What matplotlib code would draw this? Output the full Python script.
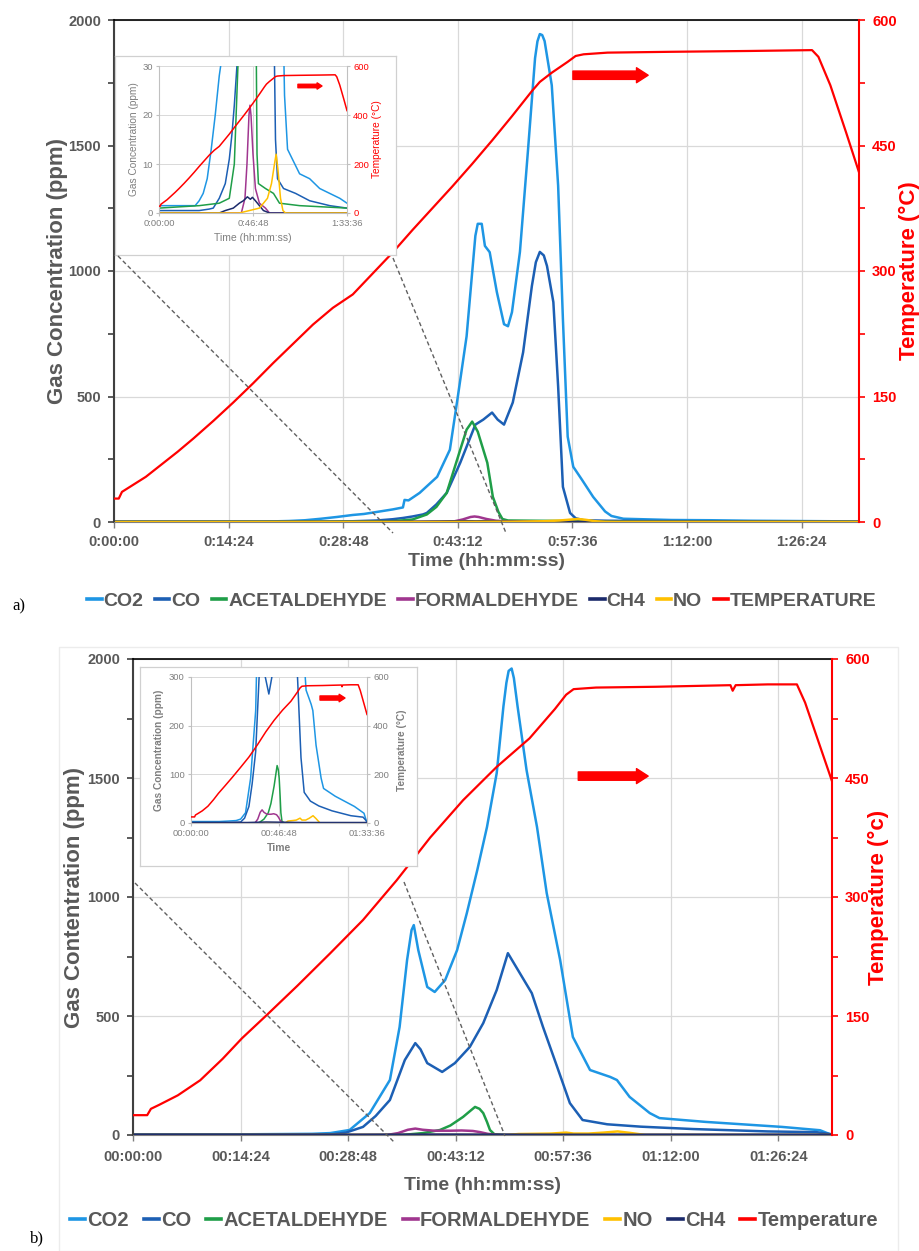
import matplotlib
matplotlib.use('Agg')
import matplotlib.pyplot as plt
from matplotlib.lines import Line2D
from matplotlib.patches import Rectangle

plt.rcParams['font.family'] = ['Liberation Sans', 'DejaVu Sans']

GRAY = '#595959'
LGRAY = '#7f7f7f'
GRID = '#d9d9d9'
RED = '#ff0000'
C_CO2 = '#1e96e4'
C_CO = '#1c5fb4'
C_ACET = '#1f9e48'
C_FORM = '#a0368f'
C_CH4 = '#1b2a6b'
C_NO = '#ffc000'

# ---------------- panel a) data, time in minutes ----------------
a_t_temp = [0, 0.6, 1.0, 2.0, 4.0, 6.0, 8.0, 10.0, 12.5, 15.0, 17.5, 20.0, 22.5, 25.0, 27.5,
            30.0, 32.5, 35.0, 37.5, 40.0, 42.5, 45.0, 47.5, 50.0, 52.5, 53.5, 55.0, 57.0,
            58.0, 59.0, 62.0, 70.0, 80.0, 87.7, 88.5, 90.0, 92.0, 93.6]
a_temp = [28, 28, 36, 42, 54, 69, 84, 100, 121, 143, 166, 190, 213, 236, 256,
          272, 297, 322, 349, 375, 401, 428, 456, 485, 515, 526, 537, 550,
          557, 559, 561, 562, 563, 564, 556, 522, 465, 418]

a_t_co2 = [0, 18, 20, 22, 24, 26, 28, 30, 31.4, 33, 35, 36.3, 36.5, 37.0, 38.4, 40.6, 42.2,
           43.2, 44.3, 45.4, 45.7, 46.2, 46.6, 47.2, 48.1, 49.0, 49.5, 50.0, 51.0, 52.0,
           52.9, 53.2, 53.5, 53.8, 54.1, 55.0, 55.8, 56.4, 57.0, 57.7, 58.8, 60.2, 61.7,
           62.5, 64, 70, 75, 80, 85, 90, 93.6]
a_co2 = [1.5, 1.5, 2.5, 4, 7, 13, 20, 28, 32, 40, 50, 58, 88, 86, 116, 180, 288,
         500, 740, 1140, 1188, 1188, 1100, 1075, 916, 788, 780, 836, 1076, 1476,
         1848, 1915, 1944, 1940, 1916, 1740, 1340, 808, 340, 220, 168, 100, 42,
         24, 13, 8, 7, 5, 4, 3, 2]

a_t_co = [0, 20, 25, 27, 30, 33, 35, 36.3, 37.5, 38.8, 39.3, 40.5, 41.8, 43.5, 45.4, 46.4,
          47.5, 48.2, 49.0, 50.1, 51.4, 52.5, 53.0, 53.5, 54.0, 54.4, 55.2, 55.8, 56.4,
          57.3, 58.0, 59.0, 62, 68, 75, 85, 93.6]
a_co = [0.5, 0.5, 0.8, 1, 3, 6, 11, 16, 22, 30, 36, 70, 116, 236, 388, 408,
        436, 408, 388, 476, 676, 940, 1035, 1076, 1062, 1020, 876, 540, 140,
        36, 15, 7, 5, 4, 2.5, 1.5, 1]

a_t_acet = [0, 20, 30, 35, 37.5, 39.3, 40.5, 41.8, 43.5, 44.3, 45.0, 45.7, 46.9, 47.6,
            48.3, 48.8, 49.5, 53, 57, 60, 70, 93.6]
a_acet = [1, 1.5, 2, 3, 10, 30, 60, 116, 288, 368, 400, 360, 236, 100,
          40, 12, 6, 5, 4, 2, 1.5, 1]

a_t_form = [0, 41, 42.8, 43.8, 44.8, 45.3, 45.8, 46.8, 48, 50, 53, 55, 93.6]
a_form = [0, 0, 3, 10, 20, 22, 20, 12, 5, 2, 1, 0, 0]

a_t_ch4 = [0, 30, 33, 37, 40, 42, 44, 45.5, 46.5, 48, 50, 52, 55, 93.6]
a_ch4 = [0, 0, 0.5, 1, 2, 2.5, 3.3, 2.8, 3.2, 2.5, 1.5, 0.5, 0, 0]

a_t_no = [0, 40, 45, 50, 52, 54, 56, 57.5, 58.3, 59.2, 60.5, 61.7, 63, 93.6]
a_no = [0, 0, 0.5, 1, 2, 3, 6, 10, 12, 9, 3, 0.5, 0, 0]

# ---------------- panel b) data ----------------
b_t_temp = [0, 1.9, 2.4, 3.5, 6, 9, 12, 14.6, 18, 22, 26.4, 30.8, 35.3, 39.8, 44.2,
            48.7, 53.1, 56.5, 58.0, 59.0, 62, 70, 80.0, 80.3, 80.7, 85, 88.9, 90, 92, 93.6]
b_temp = [25, 25, 33, 38, 50, 69, 96, 122, 152, 188, 229, 271, 321, 375, 422,
          464, 500, 537, 555, 562, 564, 565, 567, 560, 567, 568, 568, 545, 490, 446]

b_t_co2 = [0, 15, 20, 24, 26.4, 29.0, 31.7, 34.4, 35.7, 36.7, 37.3, 37.6, 38.2, 39.4, 40.4,
           41.8, 43.4, 44.7, 46.1, 47.4, 48.7, 49.6, 50.0, 50.3, 50.7, 51.0, 51.5, 52.7,
           54.1, 55.4, 57.2, 58.9, 61.2, 63.9, 64.8, 66.5, 69.2, 70.5, 76.7, 86.9, 92, 93.6]
b_co2 = [3, 3, 4, 5, 8, 21, 92, 231, 454, 735, 861, 882, 777, 622, 601,
         651, 777, 932, 1113, 1294, 1520, 1800, 1900, 1950, 1960, 1920, 1800, 1533,
         1294, 1016, 735, 412, 273, 244, 231, 160, 92, 71, 55, 34, 20, 0]

b_t_co = [0, 20, 26.4, 28.5, 30.8, 32.5, 34.4, 36.4, 37.8, 38.5, 39.4, 41.4, 43.1, 45.1,
          46.9, 48.7, 50.2, 51.8, 53.4, 54.9, 56.8, 58.5, 60.2, 63.5, 68, 75, 85, 91.5, 93.6]
b_co = [1, 1, 2, 10, 34, 80, 147, 315, 386, 360, 302, 265, 302, 370,
        470, 609, 764, 680, 596, 454, 286, 134, 63, 45, 35, 25, 15, 12, 3]

b_t_acet = [0, 36, 38.8, 41.1, 42.5, 44.2, 45.3, 45.8, 46.4, 46.9, 47.4, 47.8, 48.4, 50, 93.6]
b_acet = [0, 0, 8, 21, 40, 76, 105, 118, 110, 92, 55, 21, 3, 0, 0]

b_t_form = [0, 34, 35.5, 36.8, 37.8, 38.8, 40.4, 42.5, 44, 45.5, 46.5, 47.5, 48.9, 93.6]
b_form = [0, 0, 8, 22, 27, 22, 18, 18, 19, 17, 12, 5, 0, 0]

b_t_no = [0, 50, 51.6, 54, 56, 57, 58, 59, 61, 63, 64.9, 66.5, 68.6, 93.6]
b_no = [0, 0, 4, 5, 6, 8, 10, 6, 6, 10, 15, 9, 0, 0]

b_t_ch4 = [0, 30, 40, 50, 60, 93.6]
b_ch4 = [1, 1, 2, 1.5, 1, 1]

a_names = ['CO2', 'CO', 'ACETALDEHYDE', 'FORMALDEHYDE', 'CH4', 'NO', 'TEMPERATURE']
b_names = ['CO2', 'CO', 'ACETALDEHYDE', 'FORMALDEHYDE', 'NO', 'CH4', 'Temperature']

x_ticks = [0, 14.4, 28.8, 43.2, 57.6, 72.0, 86.4]
inset_x_ticks = [0, 46.8, 93.6]
gas_ticks = [0, 500, 1000, 1500, 2000]
temp_ticks = [0, 150, 300, 450, 600]

W, H = 919, 1251
fig = plt.figure(figsize=(W / 100, H / 100), dpi=100)


def box(l, t, r, b):
    # pixel box (top-left origin) -> figure fraction rect
    return [l / W, 1 - b / H, (r - l) / W, (b - t) / H]


def hms(m, two_digit):
    s = int(round(m * 60))
    h, mm, ss = s // 3600, s % 3600 // 60, s % 60
    return f'{h:02d}:{mm:02d}:{ss:02d}' if two_digit else f'{h}:{mm:02d}:{ss:02d}'


def main_panel(rect, series, temp_t, temp, two_digit, ylab, tlab, xpad, ylab_x, tlab_x, xlab_y):
    ax = fig.add_axes(rect)
    for t, v, c in series:
        ax.plot(t, v, color=c, lw=1.8, solid_joinstyle='round')
    ax.set_xlim(0, 93.6)
    ax.set_ylim(0, 2000)
    ax.set_xticks(x_ticks, [hms(x, two_digit) for x in x_ticks],
                  fontweight='bold', fontsize=10.5, color=GRAY)
    ax.set_yticks(gas_ticks, [str(v) for v in gas_ticks],
                  fontweight='bold', fontsize=10.5, color=GRAY)
    ax.set_yticks([250, 750, 1250, 1750], minor=True)
    ax.grid(True, which='major', color=GRID, lw=0.9)
    ax.set_axisbelow(True)
    ax.tick_params(axis='y', which='both', direction='out', length=4, width=1.2,
                   color='#404040', pad=5.4)
    ax.tick_params(axis='x', direction='out', length=4, width=1.0, color=LGRAY, pad=xpad)
    ax.spines['left'].set_color('#404040')
    ax.spines['left'].set_linewidth(1.5)
    ax.spines['top'].set_color('black')
    ax.spines['top'].set_linewidth(1.2)
    ax.spines['bottom'].set_color(LGRAY)
    ax.spines['right'].set_visible(False)
    ax.set_xlabel('Time (hh:mm:ss)', fontsize=14, fontweight='bold', color=GRAY)
    ax.xaxis.set_label_coords(0.5, xlab_y)
    ax.set_ylabel(ylab, fontsize=16, fontweight='bold', color=GRAY)
    ax.yaxis.set_label_coords(ylab_x, 0.5)

    ax2 = ax.twinx()
    ax2.plot(temp_t, temp, color=RED, lw=1.6)
    ax2.set_ylim(0, 600)
    ax2.set_yticks(temp_ticks, [str(v) for v in temp_ticks],
                   fontweight='bold', fontsize=10.5, color=RED)
    ax2.set_yticks([75, 225, 375, 525], minor=True)
    ax2.tick_params(axis='y', which='both', direction='out', length=4, width=1.2,
                    color=RED, pad=5.4)
    for s in ['left', 'top', 'bottom']:
        ax2.spines[s].set_visible(False)
    ax2.spines['right'].set_color(RED)
    ax2.spines['right'].set_linewidth(1.5)
    ax2.set_ylabel(tlab, fontsize=16, fontweight='bold', color=RED)
    ax2.yaxis.set_label_coords(tlab_x, 0.5)
    return ax, ax2


def inset(frame, rect, series, temp_t, temp, ymax, ystep, two_digit, bold, tcol,
          xlab, coords):
    fr = fig.add_axes(frame)
    fr.set_xticks([])
    fr.set_yticks([])
    for s in fr.spines.values():
        s.set_color('#d0d0d0')
        s.set_linewidth(0.9)

    ax = fig.add_axes(rect)
    for t, v, c in series:
        ax.plot(t, v, color=c, lw=1.1)
    ax.set_xlim(0, 93.6)
    ax.set_ylim(0, ymax)
    fw = 'bold' if bold else 'normal'
    yt = list(range(0, ymax + 1, ystep))
    ax.set_xticks(inset_x_ticks, [hms(x, two_digit) for x in inset_x_ticks],
                  fontsize=6.8, color=LGRAY)
    ax.set_yticks(yt, [str(v) for v in yt], fontsize=6.8, color=LGRAY)
    ax.grid(True, color=GRID, lw=0.7)
    ax.set_axisbelow(True)
    ax.tick_params(length=2, color='#c0c0c0', pad=2.5)
    for s in ax.spines.values():
        s.set_color('#c0c0c0')
        s.set_linewidth(0.8)
    ax.spines['top'].set_visible(False)
    ax.set_xlabel(xlab, fontsize=7.5, color=LGRAY, fontweight=fw)
    ax.xaxis.set_label_coords(0.5, coords[2])
    ax.set_ylabel('Gas Concentration (ppm)', fontsize=7.3, color=LGRAY, fontweight=fw)
    ax.yaxis.set_label_coords(coords[0], 0.5)

    ax2 = ax.twinx()
    ax2.plot(temp_t, temp, color=RED, lw=1.1)
    ax2.set_ylim(0, 600)
    ax2.set_yticks([0, 200, 400, 600], ['0', '200', '400', '600'], fontsize=6.8, color=tcol)
    ax2.tick_params(length=2, color='#c0c0c0', pad=2.5)
    for s in ax2.spines.values():
        s.set_visible(False)
    ax2.set_ylabel('Temperature (°C)', fontsize=7.3, color=tcol, fontweight=fw)
    ax2.yaxis.set_label_coords(coords[1], 0.5)
    return ax, ax2


def red_arrow(ax, x0, x1, y, scale):
    ax.annotate('', xy=(x1, y), xytext=(x0, y), xycoords='axes fraction',
                arrowprops=dict(arrowstyle='simple,tail_width=0.5,head_width=0.9,head_length=0.7',
                                color=RED, mutation_scale=scale, shrinkA=0, shrinkB=0))


def dashed(p0, p1):
    fig.add_artist(Line2D([p0[0] / W, p1[0] / W], [1 - p0[1] / H, 1 - p1[1] / H],
                          transform=fig.transFigure, color='#606060', lw=1.0,
                          ls=(0, (3, 2))))


# light frame around panel b
fig.add_artist(Rectangle((59 / W, 0), (898 - 59) / W, 1 - 647 / H, transform=fig.transFigure,
                         fill=False, edgecolor='#ececec', lw=1.0, zorder=-5))

# ---------------- panel a ----------------
a_series = [(a_t_co2, a_co2, C_CO2), (a_t_co, a_co, C_CO), (a_t_acet, a_acet, C_ACET),
            (a_t_form, a_form, C_FORM), (a_t_ch4, a_ch4, C_CH4), (a_t_no, a_no, C_NO)]
a_ax, a_ax2 = main_panel(box(114, 20, 859, 522), a_series, a_t_temp, a_temp, False,
                         'Gas Concentration (ppm)', 'Temperature (°C)',
                         5.4, -0.062, 1.054, -0.062)
red_arrow(a_ax2, 0.616, 0.717, 0.890, 12)

ia, ia2 = inset(box(115, 56, 396, 255), box(159, 66, 347, 213), a_series, a_t_temp, a_temp,
                30, 10, False, False, RED, 'Time (hh:mm:ss)', (-0.106, 1.133, -0.136))
red_arrow(ia2, 0.739, 0.867, 0.864, 5)

dashed((118, 256), (393, 533))
dashed((393, 258), (506, 533))

a_cols = [C_CO2, C_CO, C_ACET, C_FORM, C_CH4, C_NO, RED]
fig.legend([Line2D([], [], color=c, lw=2.6) for c in a_cols], a_names,
           loc='center', bbox_to_anchor=(482 / W, 1 - 601 / H), ncol=7, frameon=False,
           prop=dict(weight='bold', size=14), labelcolor=GRAY, handlelength=0.75,
           handletextpad=0.1, columnspacing=0.58, borderpad=0)
fig.text(12 / W, 1 - 606 / H, 'a)', family='Liberation Serif', fontsize=12, va='center')

# ---------------- panel b ----------------
b_series = [(b_t_co2, b_co2, C_CO2), (b_t_co, b_co, C_CO), (b_t_acet, b_acet, C_ACET),
            (b_t_form, b_form, C_FORM), (b_t_no, b_no, C_NO), (b_t_ch4, b_ch4, C_CH4)]
b_ax, b_ax2 = main_panel(box(133, 659, 832, 1135), b_series, b_t_temp, b_temp, True,
                         'Gas Contentration (ppm)', 'Temperature (°c)',
                         6.8, -0.069, 1.052, -0.088)
red_arrow(b_ax2, 0.637, 0.737, 0.754, 12)

ib, ib2 = inset(box(140, 667, 417, 866), box(191, 677, 367, 823), b_series, b_t_temp, b_temp,
                300, 100, True, True, LGRAY, 'Time', (-0.153, 1.17, -0.137))
red_arrow(ib2, 0.733, 0.875, 0.856, 6)

dashed((135, 883), (395, 1143))
dashed((404, 882), (505, 1136))

b_cols = [C_CO2, C_CO, C_ACET, C_FORM, C_NO, C_CH4, RED]
fig.legend([Line2D([], [], color=c, lw=2.6) for c in b_cols], b_names,
           loc='center', bbox_to_anchor=(474 / W, 1 - 1221 / H), ncol=7, frameon=False,
           prop=dict(weight='bold', size=14.5), labelcolor=GRAY, handlelength=0.75,
           handletextpad=0.1, columnspacing=0.75, borderpad=0)
fig.text(30 / W, 1 - 1238 / H, 'b)', family='Liberation Serif', fontsize=12, va='center')

fig.savefig('out.png', dpi=100, facecolor='white')
